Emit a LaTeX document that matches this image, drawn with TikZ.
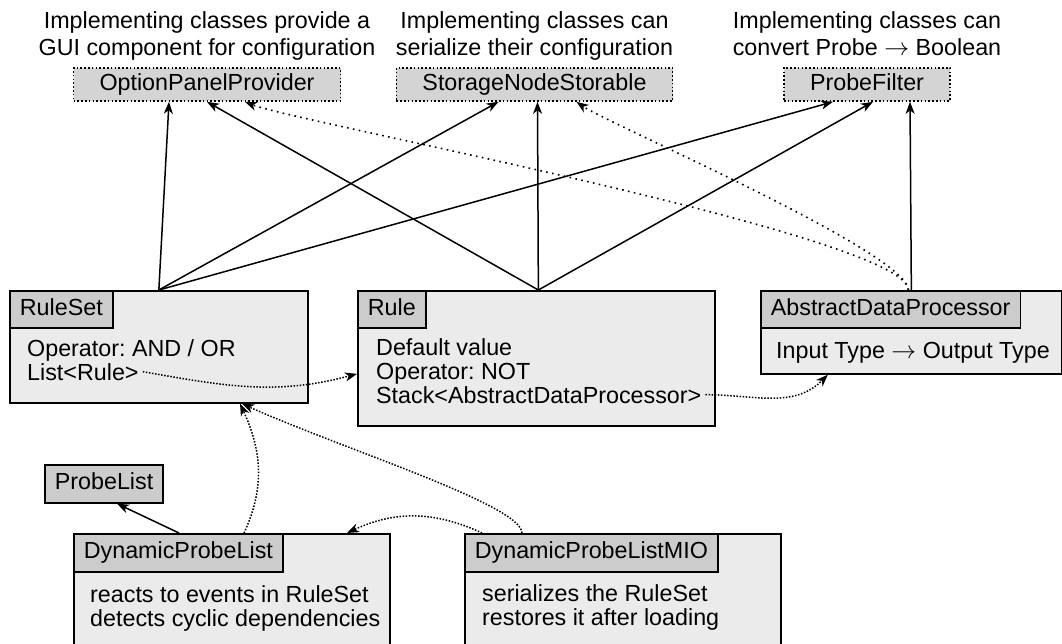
\documentclass[tikz,border=0pt]{standalone}
\usepackage{fontspec}
\setmainfont{Liberation Sans}
\usetikzlibrary{arrows.meta,calc}
\definecolor{bodyfill}{HTML}{EBEBEB}
\definecolor{headfill}{HTML}{CCCCCC}
\definecolor{ifacefill}{HTML}{D4D4D4}
\frenchspacing

\begin{document}
\begin{tikzpicture}[x=1pt,y=1pt,
  every node/.style={font=\fontsize{23.3}{24}\selectfont},
  iface/.style={draw, line width=1.6pt, dash pattern=on 1.6pt off 2.2pt,
    fill=ifacefill, inner xsep=26pt, inner ysep=0pt, minimum height=33pt,
    text height=16.8pt, text depth=4.6pt},
  note/.style={align=center, inner sep=0pt, anchor=north,
    font=\fontsize{23.3}{27.5}\selectfont},
  classbox/.style={draw, line width=1.7pt, fill=bodyfill, anchor=north west,
    inner sep=0pt},
  classhead/.style={draw, line width=1.7pt, fill=headfill, anchor=north west,
    inner xsep=10pt, inner ysep=0pt, minimum height=37pt,
    text height=16.8pt, text depth=4.6pt},
  member/.style={anchor=base west, inner xsep=4pt, inner ysep=2pt},
  tip/.style={-{Stealth[length=12pt,width=9pt,inset=3.5pt]}},
  impl/.style={tip, line width=1.5pt},
  uses/.style={tip, line width=1.6pt, dash pattern=on 1.6pt off 4.4pt},
  usesnear/.style={tip, line width=1.5pt, dash pattern=on 1.5pt off 1.6pt}]

\useasboundingbox (0,0) rectangle (1062,-643);
\clip (0,0) rectangle (1062,-643);

% interfaces
\node[iface] (opp) at (207,-84.5) {OptionPanelProvider};
\node[iface] (sns) at (534.5,-84.5) {StorageNodeStorable};
\node[iface] (pf)  at (867,-84.5) {ProbeFilter};

\node[note] (opp-note) at (207,-11) {Implementing classes provide a\\GUI component for configuration};
\node[note] (sns-note) at (534.5,-11) {Implementing classes can\\serialize their configuration};
\node[note] (pf-note)  at (867,-11) {Implementing classes can\\convert Probe $\rightarrow$ Boolean};

% RuleSet
\node[classbox, minimum width=298pt, minimum height=112pt] (ruleset) at (9,-290) {};
\node[classhead] (ruleset-h) at (ruleset.north west) {RuleSet};
\node[member] (rs-op)   at (23,-356) {Operator: AND / OR};
\node[member] (rs-list) at (23,-380) {List<Rule>};

% Rule
\node[classbox, minimum width=357pt, minimum height=135pt] (rule) at (357,-290) {};
\node[classhead] (rule-h) at (rule.north west) {Rule};
\node[member] (r-def)   at (372,-355) {Default value};
\node[member] (r-not)   at (372,-379) {Operator: NOT};
\node[member] (r-stack) at (372,-403) {Stack<AbstractDataProcessor>};

% AbstractDataProcessor
\node[classbox, minimum width=301pt, minimum height=83pt] (adp) at (760,-290) {};
\node[classhead] (adp-h) at (adp.north west) {AbstractDataProcessor};
\node[member] (adp-io) at (772,-358) {Input Type $\rightarrow$ Output Type};

% ProbeList
\node[classhead, minimum height=38pt] (probelist) at (44,-464) {ProbeList};

% DynamicProbeList
\node[classbox, minimum width=316pt, minimum height=118pt] (dpl) at (73,-533) {};
\node[classhead, minimum height=38pt] (dpl-h) at (dpl.north west) {DynamicProbeList};
\node[member] (dpl-a) at (86,-602) {reacts to events in RuleSet};
\node[member] (dpl-b) at (86,-626) {detects cyclic dependencies};

% DynamicProbeListMIO
\node[classbox, minimum width=316pt, minimum height=118pt] (mio) at (464,-533) {};
\node[classhead, minimum height=38pt] (mio-h) at (mio.north west) {DynamicProbeListMIO};
\node[member] (mio-a) at (478,-601) {serializes the RuleSet};
\node[member] (mio-b) at (478,-625) {restores it after loading};

% implementation arrows
\draw[impl] (ruleset.north) -- ([xshift=-38pt]opp.south);
\draw[impl] (ruleset.north) -- ([xshift=-36pt]sns.south);
\draw[impl] (ruleset.north) -- ([xshift=-34pt]pf.south);
\draw[impl] ([xshift=2pt]rule.north) -- (opp.south);
\draw[impl] ([xshift=2pt]rule.north) -- ([xshift=3pt]sns.south);
\draw[impl] ([xshift=2pt]rule.north) -- ([xshift=6pt]pf.south);
\draw[impl] (adp.north) -- ([xshift=43pt]pf.south);
\draw[uses] ([xshift=-3pt]adp.north) to[out=90,in=-22,looseness=0.2] ([xshift=38pt]opp.south);
\draw[uses] ([xshift=-3pt]adp.north) to[out=90,in=-35,looseness=0.25] ([xshift=42pt]sns.south);

% references between classes
\draw[usesnear] (rs-list.east) to[out=-10,in=195] ([yshift=-15.5pt]rule.west);
\draw[usesnear] (r-stack.east) to[out=0,in=225] ([xshift=-83.5pt]adp.south);
\draw[usesnear] ([xshift=171pt]dpl.north west) to[out=65,in=-65] ([xshift=231pt]ruleset.south west);
\draw[usesnear] ([xshift=58pt]mio.north west) .. controls +(0,28) and +(100,-45) .. ([xshift=233pt]ruleset.south west);
\draw[usesnear] ([xshift=18pt]mio.north west) to[bend right=25] ([xshift=274pt]dpl.north west);
\draw[impl] ([xshift=106pt]dpl.north west) -- ([xshift=13pt]probelist.south);

\end{tikzpicture}
\end{document}
